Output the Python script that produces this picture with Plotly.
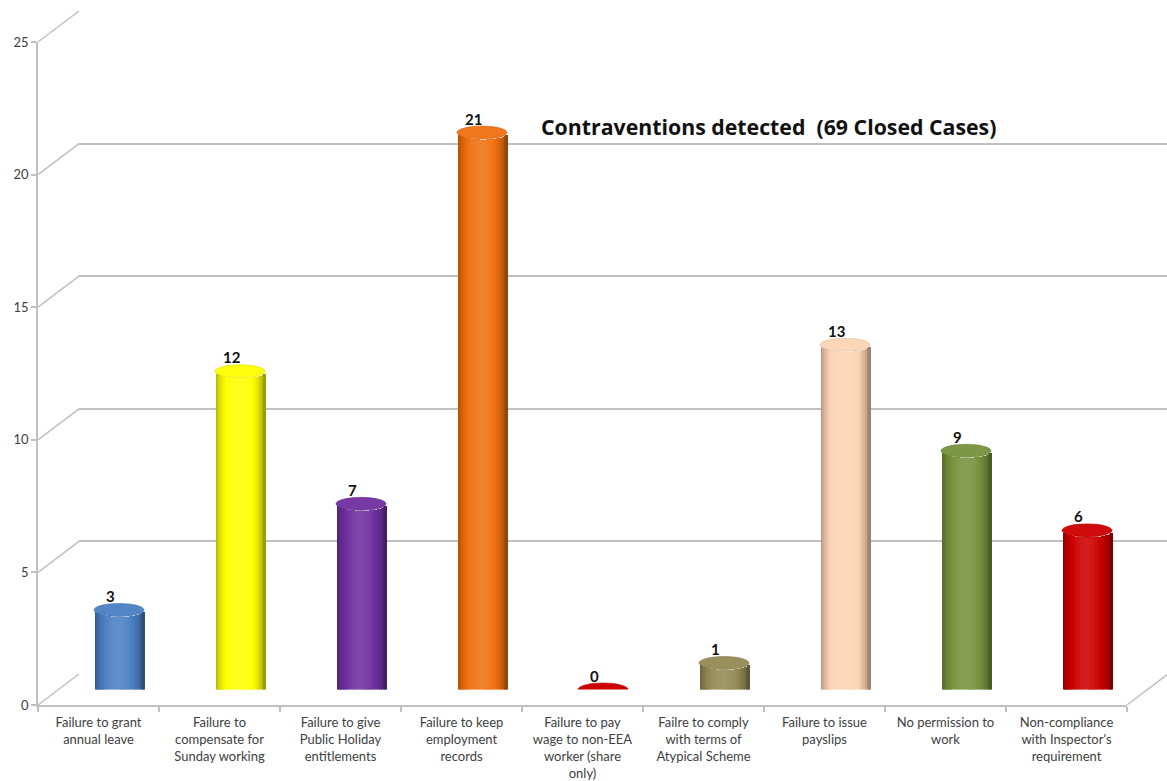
import numpy as np
import plotly.graph_objects as go

# ---- data -------------------------------------------------------------
categories = [
    "Failure to grant<br>annual leave",
    "Failure to<br>compensate for<br>Sunday working",
    "Failure to give<br>Public Holiday<br>entitlements",
    "Failure to keep<br>employment<br>records",
    "Failure to pay<br>wage to non-EEA<br>worker (share<br>only)",
    "Failre to comply<br>with terms of<br>Atypical Scheme",
    "Failure to issue<br>payslips",
    "No permission to<br>work",
    "Non-compliance<br>with Inspector's<br>requirement",
]
values = [3, 12, 7, 21, 0, 1, 13, 9, 6]
bar_colors = ["#4a80c4", "#ffff00", "#7030a0", "#f07010", "#cc0000",
              "#948a54", "#fcd5b4", "#76923c", "#cc0000"]
y_ticks = [0, 5, 10, 15, 20, 25]
title_text = "Contraventions detected  (69 Closed Cases)"

# ---- frame geometry (pixels) -----------------------------------------
W, H = 1167, 781
FX0, FX1 = 38, 1127          # front frame left / right
FY0, FY1 = 705, 42           # front frame value 0 / value 25
DX, DY = 41, 31              # depth shift of the back wall
YMAX = 25
N = len(categories)
idx = list(range(N))

def px(x):
    return x / W

def py(y):
    return 1 - y / H

unit_x = (FX1 - FX0) / N                 # pixels per category
unit_y = (FY0 - FY1) / YMAX              # pixels per value unit
BW = 50 / unit_x                         # cylinder diameter (x units)
E = 6.5 / unit_y                         # ellipse half-height (y units)

GRID = "#c0c0c0"
TXT = "#404040"
FONT = "Lato, 'Open Sans', sans-serif"
TITLE_FONT = "'Open Sans', Lato, sans-serif"


def hex_rgb(c):
    c = c.lstrip("#")
    return np.array([int(c[i:i + 2], 16) for i in (0, 2, 4)], dtype=float)


def shade(c, t):
    """Colour of the cylinder side at horizontal fraction t (0..1)."""
    base = hex_rgb(c)
    m = 0.62 + 0.5 * np.sin(np.pi * min(max(t * 1.05, 0), 1)) ** 0.6
    if m <= 1:
        rgb = base * m
    else:
        rgb = base + (255 - base) * (m - 1)
    rgb = np.clip(rgb, 0, 255).astype(int)
    return "rgb(%d,%d,%d)" % tuple(rgb)


def lighten(c, f):
    base = hex_rgb(c)
    rgb = np.clip(base + (255 - base) * f, 0, 255).astype(int)
    return "rgb(%d,%d,%d)" % tuple(rgb)


def darken(c, f):
    rgb = np.clip(hex_rgb(c) * (1 - f), 0, 255).astype(int)
    return "rgb(%d,%d,%d)" % tuple(rgb)


fig = go.Figure()

# back wall subplot (gridlines only)
fig.add_trace(go.Scatter(x=[], y=[], xaxis="x", yaxis="y",
                         showlegend=False, hoverinfo="skip"))

# front subplot (axis lines, tick labels)
fig.add_trace(go.Scatter(x=[], y=[], xaxis="x2", yaxis="y2",
                         showlegend=False, hoverinfo="skip"))

# cylinder bodies: thin vertical strips with cylindrical shading
NS = 26
sw = BW / NS
for k in range(NS):
    t = (k + 0.5) / NS
    off = -BW / 2 + k * sw
    width = min(sw * 1.7, BW / 2 - off)
    curve = E * np.sqrt(max(1 - (2 * t - 1) ** 2, 0))
    fig.add_trace(go.Bar(
        x=idx, y=values, base=[-curve] * N,
        width=width, offset=off,
        marker=dict(color=[shade(c, t) for c in bar_colors], line_width=0),
        xaxis="x3", yaxis="y3", showlegend=False, hoverinfo="skip",
    ))

shapes = []
# elliptical caps on top of each cylinder
for i, (v, c) in enumerate(zip(values, bar_colors)):
    shapes.append(dict(
        type="circle", xref="x3", yref="y3", layer="above",
        x0=i - BW / 2, x1=i + BW / 2, y0=v - E, y1=v + E,
        fillcolor=lighten(c, 0.05) if v > 0 else c,
        line=dict(color=darken(c, 0.12), width=0.6),
    ))

# side-wall and floor diagonals joining front frame to back wall
for tv in y_ticks:
    yf = FY0 - tv * unit_y
    shapes.append(dict(type="line", xref="paper", yref="paper", layer="below",
                       x0=px(FX0), y0=py(yf), x1=px(FX0 + DX), y1=py(yf - DY),
                       line=dict(color=GRID, width=1.5)))
shapes.append(dict(type="line", xref="paper", yref="paper", layer="below",
                   x0=px(FX1), y0=py(FY0), x1=px(FX1 + DX), y1=py(FY0 - DY),
                   line=dict(color=GRID, width=1.5)))

annotations = []
for i, v in enumerate(values):
    annotations.append(dict(
        xref="x3", yref="y3", x=i - 0.07, y=v + E, yanchor="bottom",
        xanchor="center", text=str(v), showarrow=False, yshift=-3.5,
        font=dict(family=FONT, size=15, color="#111111", weight="bold"),
    ))
annotations.append(dict(
    xref="paper", yref="paper", x=px(768), y=py(126),
    xanchor="center", yanchor="middle", text="<b>%s</b>" % title_text,
    showarrow=False, font=dict(family=TITLE_FONT, size=21.3, color="#111111"),
))

fig.update_layout(
    width=W, height=H, autosize=False,
    margin=dict(l=0, r=0, t=0, b=0, pad=0),
    paper_bgcolor="white", plot_bgcolor="rgba(0,0,0,0)",
    barmode="overlay", bargap=0,
    showlegend=False,
    shapes=shapes, annotations=annotations,
    # back wall
    xaxis=dict(domain=[px(FX0 + DX), 1.0], range=[-0.5, N - 0.5],
               visible=False, anchor="y", automargin=False),
    yaxis=dict(domain=[py(FY0 - DY), py(FY1 - DY)], range=[0, YMAX],
               tickvals=y_ticks, showticklabels=False, ticks="",
               showgrid=True, gridcolor=GRID, gridwidth=1.5,
               zeroline=False, showline=False, anchor="x",
               automargin=False),
    # front frame
    xaxis2=dict(domain=[px(FX0), px(FX1)], range=[-0.5, N - 0.5],
                anchor="y2", tickvals=idx, ticktext=categories,
                ticks="", showgrid=False, zeroline=False,
                showline=True, linecolor=GRID, linewidth=1.5,
                tickfont=dict(family=FONT, size=13, color=TXT),
                minor=dict(tickvals=[i - 0.5 for i in range(N + 1)],
                           ticks="outside", ticklen=5, tickcolor=GRID,
                           tickwidth=1.5, showgrid=False),
                ticklabelstandoff=5, automargin=False),
    yaxis2=dict(domain=[py(FY0), py(FY1)], range=[0, YMAX], anchor="x2",
                tickvals=y_ticks, ticks="outside", ticklen=5,
                tickcolor=GRID, tickwidth=1.5,
                showgrid=False, zeroline=False,
                showline=True, linecolor=GRID, linewidth=1.5,
                tickfont=dict(family=FONT, size=13, color=TXT),
                automargin=False),
    # cylinders
    xaxis3=dict(domain=[px(FX0 + DX / 2), px(FX1 + DX / 2)],
                range=[-0.5, N - 0.5], visible=False, anchor="y3",
                automargin=False),
    yaxis3=dict(domain=[py(FY0 - DY / 2), py(FY1 - DY / 2)],
                range=[0, YMAX], visible=False, anchor="x3",
                automargin=False),
)

fig.write_html("out.html")
